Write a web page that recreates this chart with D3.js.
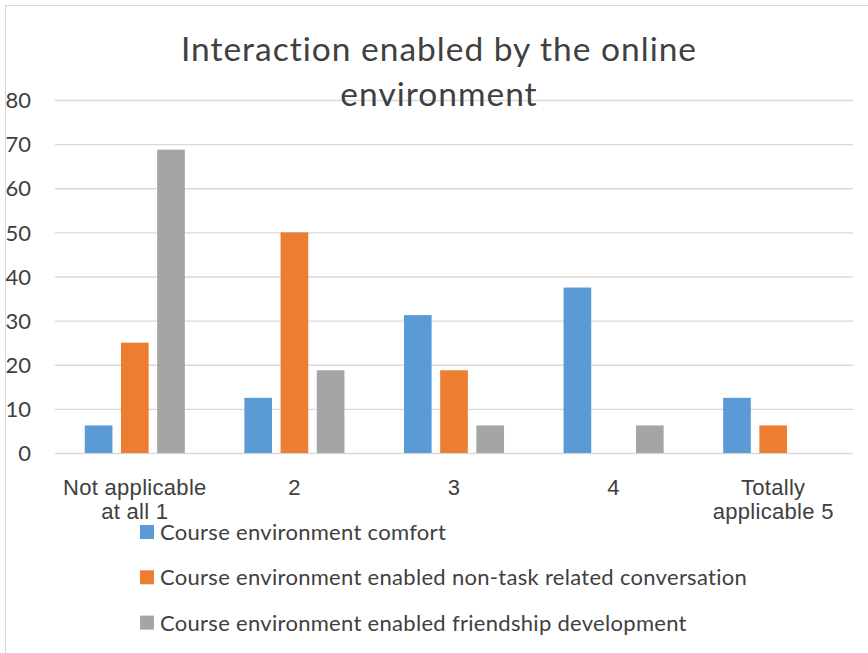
<!DOCTYPE html>
<html>
<head>
<meta charset="utf-8">
<script src="https://cdn.jsdelivr.net/npm/d3@7"></script>
<style>
  body { margin: 0; background: #fff; }
  svg { display: block; font-family: Lato, "Open Sans", sans-serif; }
</style>
</head>
<body>
<div id="chart"></div>
<script>
const categories = [["Not applicable", "at all 1"], ["2"], ["3"], ["4"], ["Totally", "applicable 5"]];
const seriesNames = [
  "Course environment comfort",
  "Course environment enabled non-task related conversation",
  "Course environment enabled friendship development"
];
const comfort = [6.25, 12.5, 31.25, 37.5, 12.5];
const conversation = [25, 50, 18.75, 0, 6.25];
const friendship = [68.75, 18.75, 6.25, 6.25, 0];
const yTicks = [0, 10, 20, 30, 40, 50, 60, 70, 80];
const colors = ["#5b9bd5", "#ed7d31", "#a5a5a5"];
const titleLines = ["Interaction enabled by the online", "environment"];

const width = 868;
const height = 653;
const marginLeft = 55;
const marginRight = 15;
const plotTop = 100;
const plotBottom = 453;

const series = [comfort, conversation, friendship];
const catIdx = d3.range(categories.length);

const svg = d3.select("#chart").append("svg")
  .attr("width", width)
  .attr("height", height)
  .attr("viewBox", [0, 0, width, height]);

svg.append("rect")
  .attr("x", 5.5).attr("y", 5.5)
  .attr("width", width - 3).attr("height", height - 4)
  .attr("fill", "#fff")
  .attr("stroke", "#d9d9d9");

const x0 = d3.scaleBand()
  .domain(catIdx)
  .range([marginLeft, width - marginRight])
  .paddingInner(0.373)
  .paddingOuter(0.1865);

const x1 = d3.scaleBand()
  .domain(d3.range(series.length))
  .range([0, x0.bandwidth()])
  .paddingInner(0.236);

const y = d3.scaleLinear().domain([0, 80]).range([plotBottom, plotTop]);

// gridlines + y labels
const yAxisG = svg.append("g")
  .attr("transform", `translate(${marginLeft},0)`)
  .call(d3.axisLeft(y)
    .tickValues(yTicks)
    .tickSize(-(width - marginRight - marginLeft))
    .tickPadding(24)
    .tickFormat(d3.format("d")))
  .attr("font-family", null)
  .call(g => g.select(".domain").remove());
yAxisG.selectAll(".tick line").attr("stroke", "#d9d9d9").attr("stroke-width", 1.3);
yAxisG.selectAll(".tick text")
  .attr("fill", "#404040")
  .attr("font-size", 22)
  .attr("dy", "0.35em");

// bars
svg.append("g")
  .selectAll("g")
  .data(series)
  .join("g")
  .attr("fill", (_, i) => colors[i])
  .each(function (values, si) {
    d3.select(this).selectAll("rect")
      .data(values)
      .join("rect")
      .attr("x", (_, ci) => x0(ci) + x1(si))
      .attr("y", d => y(d))
      .attr("width", x1.bandwidth())
      .attr("height", d => y(0) - y(d));
  });

// category labels
const xAxisG = svg.append("g")
  .attr("transform", `translate(0,${plotBottom})`)
  .call(d3.axisBottom(x0).tickSize(0).tickFormat(""))
  .call(g => g.select(".domain").remove());
xAxisG.selectAll(".tick text").remove();
xAxisG.selectAll(".tick")
  .append("text")
  .attr("fill", "#404040")
  .attr("font-size", 22)
  .attr("letter-spacing", 0.3)
  .attr("text-anchor", "middle")
  .selectAll("tspan")
  .data(d => categories[d])
  .join("tspan")
  .attr("x", 0)
  .attr("y", (_, i) => 42 + i * 24)
  .text(d => d);

// title
svg.append("text")
  .attr("fill", "#404040")
  .attr("font-size", 33.5)
  .attr("letter-spacing", 1)
  .attr("text-anchor", "middle")
  .selectAll("tspan")
  .data(titleLines)
  .join("tspan")
  .attr("x", 439)
  .attr("y", (_, i) => 61 + i * 45)
  .text(d => d);

// legend
const legend = svg.append("g")
  .selectAll("g")
  .data(seriesNames)
  .join("g")
  .attr("transform", (_, i) => `translate(140,${532 + i * 45.3})`);
legend.append("rect")
  .attr("x", 0).attr("y", -7)
  .attr("width", 14).attr("height", 14)
  .attr("fill", (_, i) => colors[i]);
legend.append("text")
  .attr("x", 20).attr("y", 8)
  .attr("fill", "#404040")
  .attr("font-size", 22)
  .attr("letter-spacing", 0.3)
  .text(d => d);
</script>
</body>
</html>
